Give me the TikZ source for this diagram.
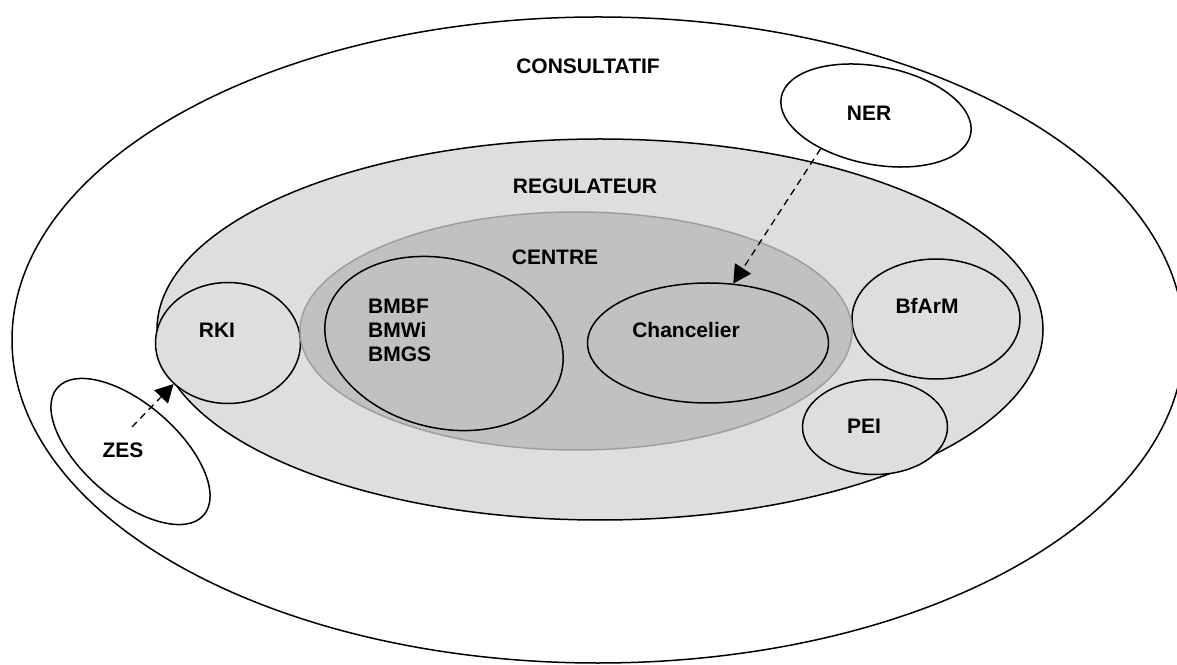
\documentclass[tikz,border=0pt]{standalone}
\usepackage{fontspec}
\setmainfont{Liberation Sans}
\usetikzlibrary{shapes.geometric,arrows.meta}

\definecolor{regfill}{gray}{0.87}
\definecolor{cenfill}{gray}{0.755}
\definecolor{cenline}{gray}{0.62}

\begin{document}
\begin{tikzpicture}[x=1pt,y=1pt,
    zone/.style={draw,ellipse,line width=1.5pt,inner sep=0pt},
    lbl/.style={font=\fontsize{21}{24}\selectfont\bfseries,inner sep=1pt},
    link/.style={line width=1.3pt,dash pattern=on 7pt off 5pt,
      -{Triangle[length=18pt,width=19pt]}}]
  \clip (0,0) rectangle (1177,664);
  \fill[white] (0,0) rectangle (1177,664);
  % the nested zones
  \node[zone,minimum width=1172,minimum height=646] (cons) at (598,324) {};
  \node[zone,fill=regfill,minimum width=886,minimum height=381] (reg) at (600,334.5) {};
  \node[zone,fill=regfill,minimum width=145,minimum height=121] (rki) at (228,321) {};
  \node[zone,fill=regfill,minimum width=168,minimum height=120] (bfarm) at (936,345) {};
  \node[zone,fill=regfill,minimum width=145,minimum height=95] (pei) at (875,237) {};
  \node[zone,draw=cenline,fill=cenfill,minimum width=552,minimum height=238] (cen) at (576,333) {};
  \node[zone,minimum width=242,minimum height=169,rotate=-14] (bm) at (444,320.5) {};
  \node[zone,minimum width=241,minimum height=120] (chan) at (708,321) {};
  \node[zone,minimum width=193,minimum height=98,rotate=-11] (ner) at (876,548.5) {};
  \node[zone,minimum width=194,minimum height=95,rotate=-41] (zes) at (130.5,212.5) {};
  % labels
  \node[lbl] (conslbl) at (588,598) {CONSULTATIF};
  \node[lbl] (reglbl) at (585,478) {REGULATEUR};
  \node[lbl] (cenlbl) at (555,407) {CENTRE};
  \node[lbl,anchor=west,align=left] (bmlbl) at (367,334) {BMBF\\BMWi\\BMGS};
  \node[lbl] (rkilbl) at (217,334) {RKI};
  \node[lbl] (chanlbl) at (686,334) {Chancelier};
  \node[lbl] (bfarmlbl) at (927,358) {BfArM};
  \node[lbl] (peilbl) at (864,238) {PEI};
  \node[lbl] (nerlbl) at (869,551) {NER};
  \node[lbl] (zeslbl) at (123,214) {ZES};
  % dashed links
  \coordinate (zesfoot) at (132,237);
  \draw[link] (ner.222) -- (chan.67);
  \draw[link] (zesfoot) -- (rki.217);
\end{tikzpicture}
\end{document}
